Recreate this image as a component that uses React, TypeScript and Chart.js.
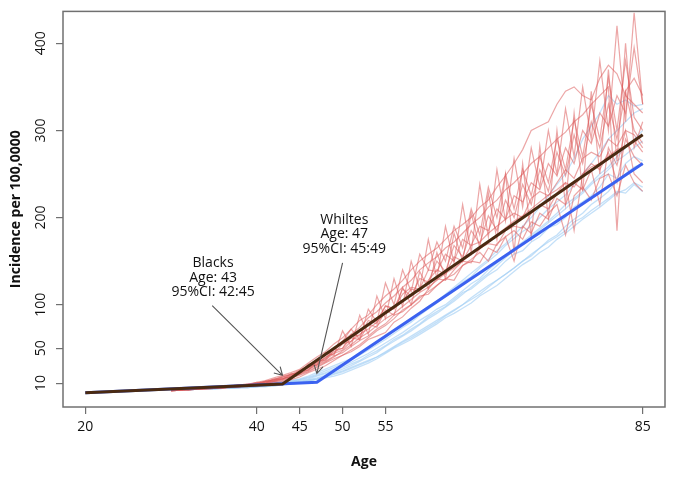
import React, { useEffect, useRef } from "react";
import { Chart, registerables } from "chart.js";

Chart.register(...registerables);

// ---- Data ----
const xTicks = [20, 40, 45, 50, 55, 85];
const yTicks = [10, 50, 100, 200, 300, 400];

// Fitted segmented lines
const blacksFitAges = [20, 43, 85];
const blacksFitValues = [-1, 9, 295];
const whitesFitAges = [20, 47, 85];
const whitesFitValues = [-1, 11, 262];

// Simulated / observed curves, ages 30..85
const curveAges = [
  30, 31, 32, 33, 34, 35, 36, 37, 38, 39, 40, 41, 42, 43, 44, 45, 46, 47, 48, 49,
  50, 51, 52, 53, 54, 55, 56, 57, 58, 59, 60, 61, 62, 63, 64, 65, 66, 67, 68, 69,
  70, 71, 72, 73, 74, 75, 76, 77, 78, 79, 80, 81, 82, 83, 84, 85,
];

const blacks1 = [2,3,2,4,4,5,4,6,7,9, 8,12,12,16,17,24,25,35,36,48, 50,66,64,82,78,99,95,118,110,130, 126,150,138,168,155,185,170,202,185,220, 200,238,215,255,230,275,248,295,262,310, 280,330,290,345,300,285];
const blacks2 = [2,2,3,3,5,4,6,6,8,8, 11,10,15,14,21,20,32,30,45,42, 70,52,88,66,110,84,130,98,150,118, 175,130,190,148,215,160,238,178,255,196, 268,212,280,235,300,250,325,270,350,290, 380,300,420,310,435,330];
const blacks3 = [1,2,3,3,3,4,5,5,6,7, 8,9,12,13,16,19,23,28,33,38, 42,46,52,60,64,68,80,86,96,104, 118,130,128,140,150,148,165,170,168,185, 190,188,205,215,210,228,240,235,250,262, 255,275,240,290,270,260];
const blacks4 = [2,3,3,4,5,5,6,7,8,9, 11,13,16,19,22,26,33,40,46,55, 62,72,82,88,100,110,118,128,140,150, 158,165,175,185,192,200,212,220,235,248, 262,278,300,305,310,330,345,350,340,335, 360,375,365,340,330,320];
const blacks5 = [1,2,2,3,3,4,4,5,6,6, 7,9,10,12,14,17,22,26,30,36, 42,48,54,62,70,76,84,94,100,108, 115,122,130,135,145,152,160,150,170,178, 185,175,195,190,205,215,180,225,235,220, 245,250,225,260,240,230];
const blacks6 = [3,2,4,3,5,4,6,5,8,7, 10,12,13,17,20,22,29,34,38,50, 58,72,60,95,80,125,100,140,115,158, 140,172,150,190,165,210,180,235,200,250, 210,255,225,270,240,290,255,312,270,330, 290,360,300,380,315,300];
const blacks7 = [2,2,3,4,4,5,5,6,7,8, 9,11,14,15,18,23,28,32,40,44, 55,58,70,78,82,98,96,112,120,118, 140,138,158,150,175,168,190,185,210,198, 225,218,240,232,262,248,280,262,300,285, 320,305,340,320,395,330];
const blacks8 = [2,3,3,3,4,5,5,6,7,8, 9,10,13,15,17,21,26,31,37,44, 48,58,66,72,80,90,96,104,118,115, 128,140,135,155,150,168,172,182,190,198, 205,200,222,230,225,240,255,245,268,275, 270,290,282,300,295,280];
const blacks9 = [2,3,3,4,4,5,6,7,8,9, 10,12,14,18,20,25,30,36,42,50, 58,66,74,85,92,102,110,120,128,140, 148,155,165,172,182,192,200,212,220,232, 240,250,262,270,280,290,298,310,318,330, 340,350,185,345,360,340];
const blacks10 = [1,2,3,3,4,4,5,6,6,7, 8,10,11,14,16,20,24,29,34,40, 47,54,62,68,76,84,90,98,106,114, 120,128,136,142,150,158,164,172,180,188, 196,202,210,218,226,232,240,185,250,258, 262,270,278,282,288,275];
const blacks11 = [2,2,3,3,4,5,5,6,8,8, 9,12,14,17,19,24,27,33,39,46, 50,62,60,78,74,94,88,120,100,138, 118,160,130,182,150,205,165,228,175,250, 160,262,178,282,200,300,215,320,230,345, 250,370,265,400,280,310];
const blacks12 = [1,2,2,3,4,4,5,5,6,7, 9,10,12,15,18,21,25,31,35,41, 45,52,59,64,72,78,88,92,100,110, 112,122,130,128,145,150,148,165,160,178, 150,190,182,205,198,222,215,240,232,255, 215,280,260,300,250,240];

const whites1 = [2,2,3,3,3,4,4,5,5,6, 6,7,8,9,10,12,14,16,19,22, 26,30,35,40,45,52,58,64,70,77, 84,90,97,104,112,120,128,136,145,154, 162,170,178,186,194,202,210,220,228,238, 246,255,265,272,280,288];
const whites2 = [2,2,2,3,3,3,4,4,5,5, 6,6,7,8,9,10,12,14,16,18, 21,25,29,33,38,44,50,55,60,66, 72,78,85,90,96,102,110,116,122,130, 138,146,152,160,166,175,182,190,198,205, 212,220,228,232,240,235];
const whites3 = [2,3,3,3,4,4,5,5,6,7, 7,8,9,11,12,14,17,20,24,28, 32,37,42,48,54,60,67,74,80,88, 95,102,110,118,126,132,142,150,158,168, 176,184,190,200,210,218,226,238,250,262, 275,290,300,310,320,325];
const whites4 = [2,2,3,3,3,4,4,5,5,6, 6,7,8,10,11,13,15,18,21,24, 28,32,36,42,47,53,60,65,72,78, 86,92,98,106,114,118,126,134,140,150, 158,162,172,178,188,192,200,212,218,225, 235,250,245,262,270,265];
const whites5 = [2,2,2,3,3,3,4,4,5,5, 6,7,8,9,10,11,13,15,18,21, 24,28,32,36,40,46,52,58,64,70, 76,82,88,94,100,108,115,122,128,135, 142,150,156,165,172,178,185,195,200,208, 215,222,230,228,238,230];
const whites6 = [2,3,3,4,4,4,5,6,6,7, 8,9,10,12,13,15,18,22,26,30, 34,38,44,50,56,62,70,76,82,90, 98,104,112,120,128,136,144,152,162,170, 180,190,200,212,225,238,250,268,290,305, 320,340,330,335,328,330];
const whites7 = [2,2,3,3,4,4,4,5,6,6, 7,8,9,10,12,14,16,19,22,26, 30,34,39,44,50,56,62,68,75,82, 88,95,100,108,116,124,130,140,148,156, 165,172,180,188,196,205,215,222,230,240, 250,258,270,280,290,300];
const whites8 = [2,2,2,3,3,4,4,4,5,5, 6,6,7,8,10,11,13,15,17,20, 23,27,31,35,40,45,51,57,62,68, 74,80,87,93,100,106,112,120,128,135, 142,150,158,165,174,180,190,198,205,215, 222,230,242,250,258,262];

const blacksCurves = [blacks1, blacks2, blacks3, blacks4, blacks5, blacks6, blacks7, blacks8, blacks9, blacks10, blacks11, blacks12];
const whitesCurves = [whites1, whites2, whites3, whites4, whites5, whites6, whites7, whites8];

// Annotations (data coordinates)
const annotationLines = [
  ["Blacks", "Age: 43", "95%CI: 42:45"],
  ["Whiltes", "Age: 47", "95%CI: 45:49"],
];
const annotationTextAt = [
  [34.9, 131],
  [50.2, 181],
];
const arrowFrom = [
  [34.8, 99],
  [50.0, 148],
];
const arrowTo = [
  [43.0, 19],
  [47.0, 21],
];

const FONT = "'Open Sans', 'DejaVu Sans', sans-serif";

const toPoints = (xs: number[], ys: number[]) => xs.map((x, i) => ({ x, y: ys[i] }));

const overlayPlugin = {
  id: "overlay",
  beforeDatasetsDraw(chart: any) {
    const { ctx, chartArea } = chart;
    ctx.save();
    ctx.strokeStyle = "#707070";
    ctx.lineWidth = 1.5;
    ctx.strokeRect(chartArea.left, chartArea.top, chartArea.right - chartArea.left, chartArea.bottom - chartArea.top);
    ctx.restore();
  },
  afterDatasetsDraw(chart: any) {
    const { ctx } = chart;
    const xs = chart.scales.x;
    const ys = chart.scales.y;
    ctx.save();
    ctx.fillStyle = "#111";
    ctx.font = `14px ${FONT}`;
    ctx.textAlign = "center";
    ctx.textBaseline = "middle";
    annotationLines.forEach((lines, k) => {
      const cx = xs.getPixelForValue(annotationTextAt[k][0]);
      const cy = ys.getPixelForValue(annotationTextAt[k][1]);
      const lh = 14.5;
      lines.forEach((t, i) => {
        ctx.fillText(t, cx, cy + (i - (lines.length - 1) / 2) * lh);
      });
    });
    ctx.strokeStyle = "#555";
    ctx.lineWidth = 1.1;
    arrowFrom.forEach((f, k) => {
      const x0 = xs.getPixelForValue(f[0]);
      const y0 = ys.getPixelForValue(f[1]);
      const x1 = xs.getPixelForValue(arrowTo[k][0]);
      const y1 = ys.getPixelForValue(arrowTo[k][1]);
      ctx.beginPath();
      ctx.moveTo(x0, y0);
      ctx.lineTo(x1, y1);
      const ang = Math.atan2(y1 - y0, x1 - x0);
      const L = 9;
      const a = Math.PI / 6;
      ctx.moveTo(x1 - L * Math.cos(ang - a), y1 - L * Math.sin(ang - a));
      ctx.lineTo(x1, y1);
      ctx.lineTo(x1 - L * Math.cos(ang + a), y1 - L * Math.sin(ang + a));
      ctx.stroke();
    });
    ctx.restore();
  },
};

export default function App() {
  const canvasRef = useRef<HTMLCanvasElement | null>(null);

  useEffect(() => {
    if (!canvasRef.current) return;
    const datasets: any[] = [];
    datasets.push({
      label: "Blacks fit",
      data: toPoints(blacksFitAges, blacksFitValues),
      borderColor: "#4a2a12",
      borderWidth: 3,
      pointRadius: 0,
      tension: 0,
    });
    datasets.push({
      label: "Whites fit",
      data: toPoints(whitesFitAges, whitesFitValues),
      borderColor: "#3b62f0",
      borderWidth: 3,
      pointRadius: 0,
      tension: 0,
    });
    blacksCurves.forEach((c, i) => {
      datasets.push({
        label: `Blacks ${i + 1}`,
        data: toPoints(curveAges, c),
        borderColor: "rgba(220, 92, 92, 0.55)",
        borderWidth: 1.2,
        pointRadius: 0,
        tension: 0,
      });
    });
    whitesCurves.forEach((c, i) => {
      datasets.push({
        label: `Whites ${i + 1}`,
        data: toPoints(curveAges, c),
        borderColor: "rgba(165, 208, 245, 0.65)",
        borderWidth: 1.3,
        pointRadius: 0,
        tension: 0,
      });
    });

    const chart = new Chart(canvasRef.current, {
      type: "line",
      data: { datasets },
      options: {
        animation: false,
        responsive: false,
        maintainAspectRatio: false,
        layout: { padding: { top: 10, right: 11, left: 0, bottom: 0 } },
        plugins: { legend: { display: false }, tooltip: { enabled: false } },
        scales: {
          x: {
            type: "linear",
            min: 17.4,
            max: 87.6,
            afterBuildTicks: (s: any) => {
              s.ticks = xTicks.map((v) => ({ value: v }));
            },
            afterFit: (s: any) => {
              s.height = 72;
            },
            grid: { display: true, drawOnChartArea: false, drawTicks: true, tickLength: 7, color: "#707070", lineWidth: 1.2 },
            border: { display: false },
            ticks: {
              color: "#111",
              font: { family: FONT, size: 14 },
              padding: 5,
              maxRotation: 0,
              autoSkip: false,
              callback: (v: any) => String(v),
            },
            title: {
              display: true,
              text: "Age",
              color: "#111",
              font: { family: FONT, size: 14, weight: "bold" },
              padding: { top: 0, bottom: 9 },
            },
          },
          y: {
            type: "linear",
            min: -17.4,
            max: 436.6,
            afterBuildTicks: (s: any) => {
              s.ticks = yTicks.map((v) => ({ value: v }));
            },
            afterFit: (s: any) => {
              s.width = 63;
            },
            grid: { display: true, drawOnChartArea: false, drawTicks: true, tickLength: 7, color: "#707070", lineWidth: 1.2 },
            border: { display: false },
            ticks: {
              color: "#111",
              font: { family: FONT, size: 14 },
              padding: 3,
              minRotation: 90,
              maxRotation: 90,
              crossAlign: "center",
              autoSkip: false,
              callback: (v: any) => String(v),
            },
            title: {
              display: true,
              text: "Incidence per 100,0000",
              color: "#111",
              font: { family: FONT, size: 14, weight: "bold" },
              padding: { top: 8, bottom: 0 },
            },
          },
        },
      },
      plugins: [overlayPlugin],
    });
    return () => chart.destroy();
  }, []);

  return (
    <div style={{ position: "fixed", left: 0, top: 0, width: 676, height: 479, background: "#fff" }}>
      <canvas ref={canvasRef} width={676} height={479} style={{ width: 676, height: 479 }} />
    </div>
  );
}
